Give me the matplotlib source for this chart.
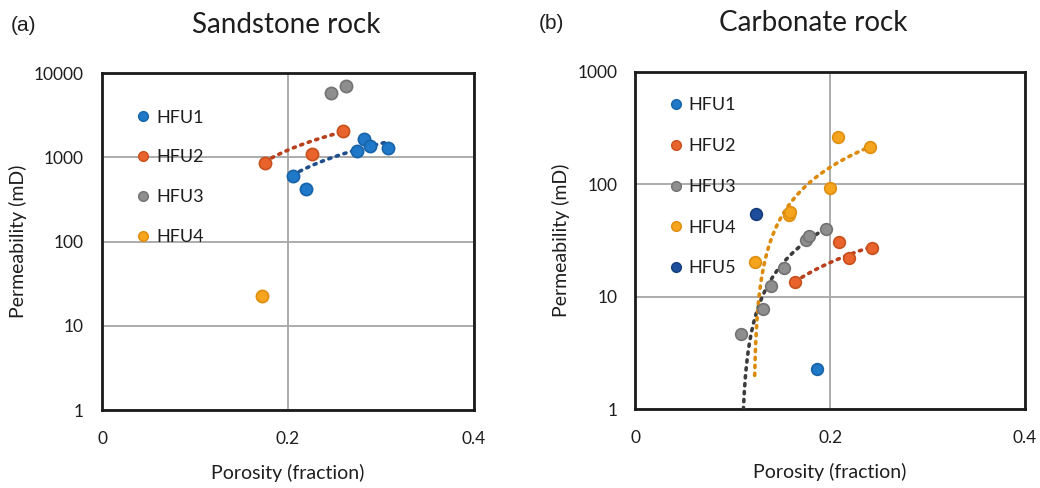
import numpy as np
import matplotlib
matplotlib.use("Agg")
import matplotlib.pyplot as plt
from matplotlib.ticker import FixedLocator, FixedFormatter, NullLocator
from matplotlib.lines import Line2D

plt.rcParams['font.family'] = ['Lato', 'DejaVu Sans']

# ---------------- data ----------------
units_sand = ["HFU1", "HFU2", "HFU3", "HFU4"]
units_carb = ["HFU1", "HFU2", "HFU3", "HFU4", "HFU5"]

# Sandstone: porosity (fraction) and permeability (mD)
sand_phi = {
    "HFU1": [0.205, 0.219, 0.2745, 0.282, 0.288, 0.308],
    "HFU2": [0.175, 0.226, 0.2595],
    "HFU3": [0.246, 0.262],
    "HFU4": [0.172],
}
sand_k = {
    "HFU1": [600, 417, 1196, 1634, 1371, 1298],
    "HFU2": [861, 1084, 2050],
    "HFU3": [5740, 7010],
    "HFU4": [22.5],
}

# Carbonate: porosity (fraction) and permeability (mD)
carb_phi = {
    "HFU1": [0.186],
    "HFU2": [0.164, 0.209, 0.219, 0.2426],
    "HFU3": [0.1088, 0.1314, 0.139, 0.1526, 0.1749, 0.178, 0.1957],
    "HFU4": [0.1225, 0.158, 0.159, 0.1998, 0.2084, 0.2409],
    "HFU5": [0.1239],
}
carb_k = {
    "HFU1": [2.29],
    "HFU2": [13.4, 30.5, 22.0, 27.0],
    "HFU3": [4.67, 7.74, 12.5, 18.1, 32.0, 34.7, 39.6],
    "HFU4": [20.4, 53, 57, 93, 261, 216],
    "HFU5": [54],
}

# Linear trendlines k = slope * phi + intercept, spanning each unit's porosity range
sand_trend = {"HFU1": (8883.0, -1206.0), "HFU2": (13314.0, -1445.0)}
carb_trend = {"HFU2": (180.7, -16.0), "HFU3": (466.0, -50.7), "HFU4": (1800.0, -218.5)}

x_ticks = [0, 0.2, 0.4]
x_ticklabels = ["0", "0.2", "0.4"]
sand_y_ticks = [1, 10, 100, 1000, 10000]
carb_y_ticks = [1, 10, 100, 1000]

# ---------------- styles ----------------
fill = {"HFU1": "#1f78c8", "HFU2": "#e8642c", "HFU3": "#8e8e8e",
        "HFU4": "#f5a41e", "HFU5": "#1c4e9c"}
edge = {"HFU1": "#1763a8", "HFU2": "#c8501c", "HFU3": "#737373",
        "HFU4": "#e08e10", "HFU5": "#143c7c"}
trend_col = {"HFU1": "#1f4e8c", "HFU2": "#b8401c", "HFU3": "#3c3c3c",
             "HFU4": "#dc8a0c"}

GRID = "#a6a6a6"
TEXT = "#1e1e1e"

fig = plt.figure(figsize=(10.4, 4.88), dpi=100)
ax_s = fig.add_axes([0.0981, 0.1598, 0.3577, 0.6906])
ax_c = fig.add_axes([0.6109, 0.1613, 0.3747, 0.6918])


def style_axes(ax, yticks, ymax):
    ax.set_xlim(0, 0.4)
    ax.set_yscale("log")
    ax.set_ylim(1, ymax)
    ax.xaxis.set_major_locator(FixedLocator(x_ticks))
    ax.xaxis.set_major_formatter(FixedFormatter(x_ticklabels))
    ax.yaxis.set_major_locator(FixedLocator(yticks))
    ax.yaxis.set_major_formatter(FixedFormatter([str(t) for t in yticks]))
    ax.yaxis.set_minor_locator(NullLocator())
    ax.tick_params(axis="both", length=0, labelsize=12.5, colors=TEXT)
    ax.tick_params(axis="x", pad=15)
    ax.tick_params(axis="y", pad=13)
    ax.grid(True, color=GRID, linewidth=1.3)
    ax.set_axisbelow(True)
    for sp in ax.spines.values():
        sp.set_linewidth(2.0)
        sp.set_color("#1a1a1a")
    ax.set_xlabel("Porosity (fraction)", fontsize=14, color=TEXT, labelpad=12)
    ax.set_ylabel("Permeability (mD)", fontsize=14, color=TEXT, labelpad=5)


def draw(ax, units, phi, k, trend, ms):
    for u in units:
        if u in trend:
            m, c = trend[u]
            xs = np.linspace(min(phi[u]), max(phi[u]), 200)
            ys = m * xs + c
            ys = np.where(ys > 0, ys, np.nan)
            ax.plot(xs, ys, color=trend_col[u], linewidth=2.6,
                    linestyle=(0, (0.6, 1.6)), dash_capstyle="round", zorder=3)
    for u in units:
        ax.plot(phi[u], k[u], linestyle="none", marker="o", markersize=ms,
                markerfacecolor=fill[u], markeredgecolor=edge[u],
                markeredgewidth=1.2, zorder=4)
    handles = [Line2D([], [], linestyle="none", marker="o", markersize=7,
                      markerfacecolor=fill[u], markeredgecolor=edge[u],
                      markeredgewidth=1.0) for u in units]
    return handles


style_axes(ax_s, sand_y_ticks, 10000)
style_axes(ax_c, carb_y_ticks, 1000)

h_s = draw(ax_s, units_sand, sand_phi, sand_k, sand_trend, 8.8)
h_c = draw(ax_c, units_carb, carb_phi, carb_k, carb_trend, 8.4)

leg_s = ax_s.legend(h_s, units_sand, loc="upper left",
                    bbox_to_anchor=(0.06, 0.913), frameon=False,
                    fontsize=13, handletextpad=0.05, labelspacing=1.32,
                    borderaxespad=0, handlelength=1.3)
leg_c = ax_c.legend(h_c, units_carb, loc="upper left",
                    bbox_to_anchor=(0.055, 0.945), frameon=False,
                    fontsize=13, handletextpad=0.05, labelspacing=1.37,
                    borderaxespad=0, handlelength=1.3)
for leg in (leg_s, leg_c):
    for t in leg.get_texts():
        t.set_color(TEXT)

fig.text(0.275, 0.948, "Sandstone rock", ha="center", va="center",
         fontsize=20, color=TEXT)
fig.text(0.782, 0.952, "Carbonate rock", ha="center", va="center",
         fontsize=20, color=TEXT)
fig.text(0.010, 0.948, "(a)", ha="left", va="center", fontsize=15,
         family=["Liberation Sans", "DejaVu Sans"], color=TEXT)
fig.text(0.518, 0.952, "(b)", ha="left", va="center", fontsize=15,
         family=["Liberation Sans", "DejaVu Sans"], color=TEXT)

fig.savefig("out.png", dpi=100, facecolor="white")
